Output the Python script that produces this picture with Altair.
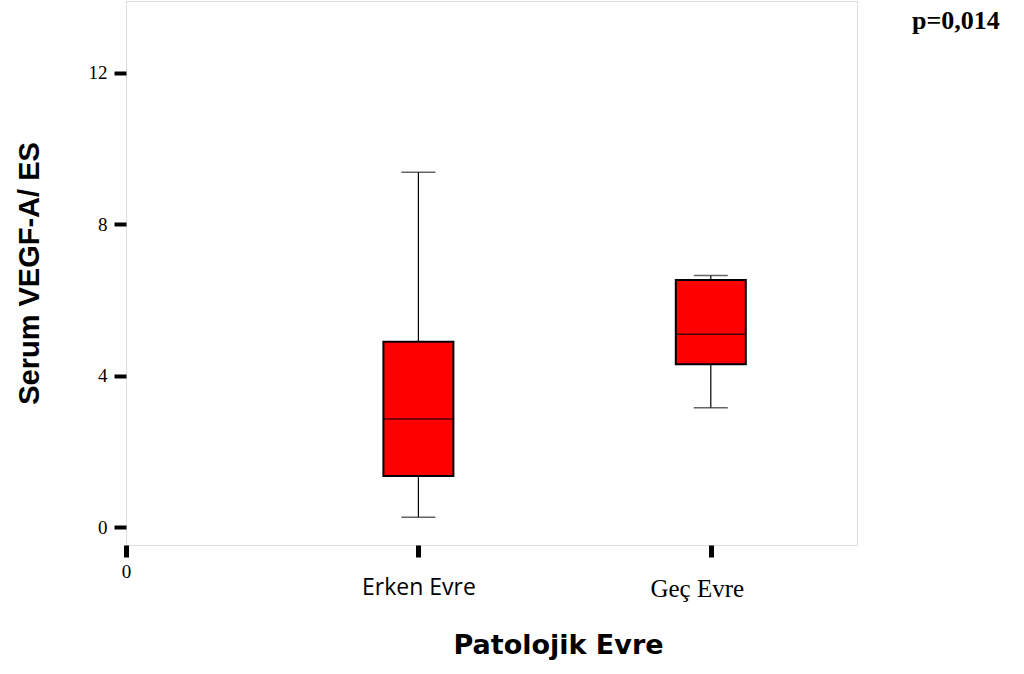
import altair as alt
import pandas as pd

# ---- data ----
categories = ["Erken Evre", "Geç Evre"]
positions = [1, 2]
whisker_low = [0.26, 3.15]
q1 = [1.35, 4.30]
median = [2.85, 5.09]
q3 = [4.89, 6.52]
whisker_high = [9.37, 6.64]
y_ticks = [0, 4, 8, 12]
x_ticks = [0, 1, 2]
x_tick_labels = ["0", "Erken Evre", "Geç Evre"]

df = pd.DataFrame({
    "grup": categories, "pos": positions, "lo": whisker_low, "q1": q1,
    "med": median, "q3": q3, "hi": whisker_high,
})

label_expr = " : ".join(
    f"datum.value == {v} ? '{t}'" for v, t in zip(x_ticks[1:], x_tick_labels[1:])
) + f" : '{x_tick_labels[0]}'"

serif = "Liberation Serif, Times New Roman, serif"

x_axis = alt.Axis(
    values=x_ticks, labelExpr=label_expr, title="Patolojik Evre",
    grid=False, domain=False, tickColor="black", tickSize=12, tickWidth=5,
    labelFlush=False,
    labelFont={"condition": {"test": "datum.value == 1", "value": "Open Sans"},
               "value": serif},
    labelFontSize={"condition": [
        {"test": "datum.value == 0", "value": 19},
        {"test": "datum.value == 1", "value": 23}],
        "value": 25},
    labelPadding={"condition": {"test": "datum.value == 0", "value": 5},
                  "value": 19},
    labelOffset={"condition": {"test": "datum.value == 2", "value": -14},
                 "value": 0},
    labelColor="black",
    titleFont="DejaVu Sans, Liberation Sans", titleFontSize=27,
    titleFontWeight="bold", titleColor="black",
    titleX=432, titleY=108, titleBaseline="alphabetic", titleAlign="center",
)
y_axis = alt.Axis(
    values=y_ticks, title="Serum VEGF-A/ ES", grid=False, domain=False,
    tickColor="black", tickSize=12, tickWidth=4,
    labelFont=serif, labelFontSize=19, labelPadding=7, labelColor="black",
    titleFont="Liberation Sans Narrow, Liberation Sans, Arial",
    titleFontSize=29, titleFontWeight="bold", titleColor="black",
    titleX=-88, titleY=272, titleBaseline="alphabetic", titleAngle=270,
)

xs = alt.Scale(domain=[0, 2.5], nice=False, zero=False, padding=0)
ys = alt.Scale(domain=[-0.475, 13.89], nice=False, zero=False, padding=0)

base = alt.Chart(df)
X = alt.X("pos:Q", scale=xs, axis=x_axis)

whisk = base.mark_rule(color="black", strokeWidth=1.2).encode(
    x=X, y=alt.Y("lo:Q", scale=ys, axis=y_axis), y2="hi:Q")
box = base.mark_bar(size=70, color="#ff0000", stroke="black", strokeWidth=2).encode(
    x=X, y=alt.Y("q1:Q", scale=ys, axis=y_axis), y2="q3:Q")
med = base.mark_tick(orient="horizontal", size=70, thickness=1.5, color="black").encode(
    x=X, y=alt.Y("med:Q", scale=ys, axis=y_axis))
cap_lo = base.mark_tick(orient="horizontal", size=34, thickness=1.5, color="#222").encode(
    x=X, y=alt.Y("lo:Q", scale=ys, axis=y_axis))
cap_hi = base.mark_tick(orient="horizontal", size=34, thickness=1.5, color="#222").encode(
    x=X, y=alt.Y("hi:Q", scale=ys, axis=y_axis))

chart = alt.layer(whisk, box, med, cap_lo, cap_hi).properties(
    width=731, height=544,
    autosize=alt.AutoSizeParams(type="none"),
    padding={"left": 126, "top": 1, "right": 167, "bottom": 129},
    title=alt.TitleParams("p=0,014", anchor="start", frame="group", dx=786, dy=58,
                          font=serif, fontSize=26, fontWeight="bold",
                          color="black", baseline="alphabetic"),
).configure_view(stroke="#555", strokeWidth=1.2).configure(background="white")

chart.save("out.html", embed_options={"renderer": "svg", "actions": False})
